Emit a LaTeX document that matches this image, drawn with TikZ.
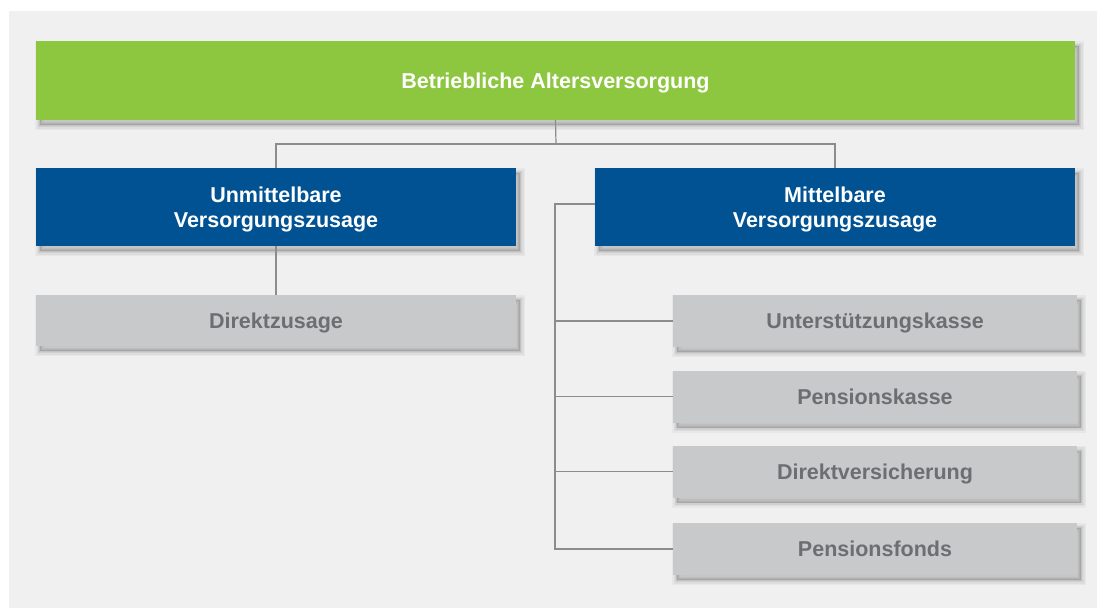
\documentclass[tikz,border=0pt]{standalone}
\usepackage{fontspec}
\setmainfont{Liberation Sans}
\usetikzlibrary{shadows}
\definecolor{bavgreen}{RGB}{141,198,63}
\definecolor{bavblue}{RGB}{0,82,147}
\definecolor{bavgray}{RGB}{200,201,203}
\definecolor{bavtext}{RGB}{109,110,113}
\definecolor{bavbg}{RGB}{240,240,240}
\definecolor{bavline}{RGB}{140,140,140}
\tikzset{
  softshadow/.style={
    general shadow={shadow xshift=4pt, shadow yshift=-5pt, draw=black, draw opacity=.035, line width=10pt},
    general shadow={shadow xshift=4pt, shadow yshift=-5pt, draw=black, draw opacity=.045, line width=7pt},
    general shadow={shadow xshift=4pt, shadow yshift=-5pt, draw=black, draw opacity=.055, line width=4pt},
    general shadow={shadow xshift=4pt, shadow yshift=-5pt, draw=black, draw opacity=.065, line width=1.5pt},
    general shadow={shadow xshift=4pt, shadow yshift=-5pt, fill=black, fill opacity=.14}},
  box/.style={rectangle, inner sep=0pt, align=center, text depth=0pt,
    font=\fontsize{21.5}{25.5}\selectfont\bfseries, softshadow},
  greenbox/.style={box, fill=bavgreen, text=white, minimum width=1039pt, minimum height=79pt},
  bluebox/.style={box, fill=bavblue, text=white, minimum width=480pt, minimum height=78pt},
  graybox/.style={box, fill=bavgray, text=bavtext, minimum height=52pt},
  conn/.style={draw=bavline, line width=1.2pt}
}
\begin{document}
\begin{tikzpicture}[x=1pt,y=1pt]
\useasboundingbox (0,0) rectangle (1097,-608);
\fill[white] (0,0) rectangle (1097,-608);
\fill[bavbg] (9,-11) rectangle (1097,-608);

\coordinate (j) at (556,-144);
\coordinate (trunk) at (555,0);

\node[greenbox] (top) at (555.5,-80.5) {Betriebliche Altersversorgung};
\node[bluebox] (lb) at (276,-207) {Unmittelbare\\Versorgungszusage};
\node[bluebox] (rb) at (835,-207) {Mittelbare\\Versorgungszusage};
\node[graybox, minimum width=480pt, minimum height=51pt] (dz) at (276,-320.5) {Direktzusage};
\node[graybox, minimum width=404pt] (g1) at (875,-321) {Unterstützungskasse};
\node[graybox, minimum width=404pt] (g2) at (875,-396.5) {Pensionskasse};
\node[graybox, minimum width=404pt] (g3) at (875,-471.5) {Direktversicherung};
\node[graybox, minimum width=404pt] (g4) at (875,-549) {Pensionsfonds};

\draw[conn] (top.south) -- (j);
\draw[conn] (lb.north) |- (j) -| (rb.north);
\draw[conn] (lb.south) -- (dz.north);
\draw[conn] ([yshift=3pt]rb.west) -| (g4.west -| trunk) -- (g4.west);
\draw[conn] (g1.west -| trunk) -- (g1.west);
\draw[conn] (g2.west -| trunk) -- (g2.west);
\draw[conn] (g3.west -| trunk) -- (g3.west);
\end{tikzpicture}
\end{document}
